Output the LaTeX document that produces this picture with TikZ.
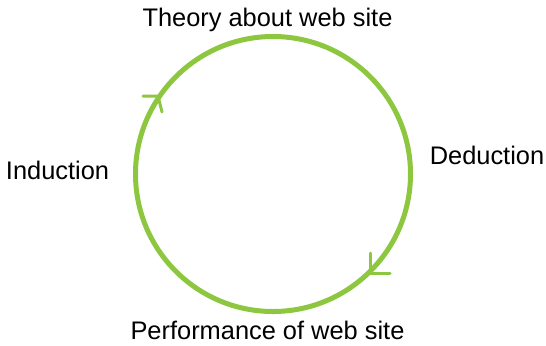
\documentclass[tikz,border=0pt]{standalone}
\usepackage{fontspec}
\setmainfont{Liberation Sans}
\definecolor{cyclegreen}{RGB}{141,198,63}
\begin{document}
\begin{tikzpicture}[x=1bp,y=-1bp,
  cycle/.style={draw=cyclegreen,line width=5bp},
  barb/.style={draw=cyclegreen,line width=3bp,line cap=round},
  phase/.style={font=\fontsize{25.5}{30}\selectfont,anchor=base,inner sep=0pt}]
  \useasboundingbox (0,0) rectangle (546,345);
  % the cycle
  \coordinate (c) at (273,174);
  \draw[cycle] (c) circle[radius=137.5bp];
  % open arrow heads on the circle (clockwise)
  \coordinate (tipA) at (158,96);
  \coordinate (tipB) at (370,273);
  \draw[barb] (143,96) -- (tipA) -- (162,112);
  \draw[barb] (370,253) -- (tipB) -- (390,273);
  % labels
  \node[phase] (theory) at (267.5,26) {Theory about web site};
  \node[phase] (deduction) at (487,164) {Deduction};
  \node[phase] (performance) at (267.5,339.5) {Performance of web site};
  \node[phase] (induction) at (57.5,179) {Induction};
\end{tikzpicture}
\end{document}
